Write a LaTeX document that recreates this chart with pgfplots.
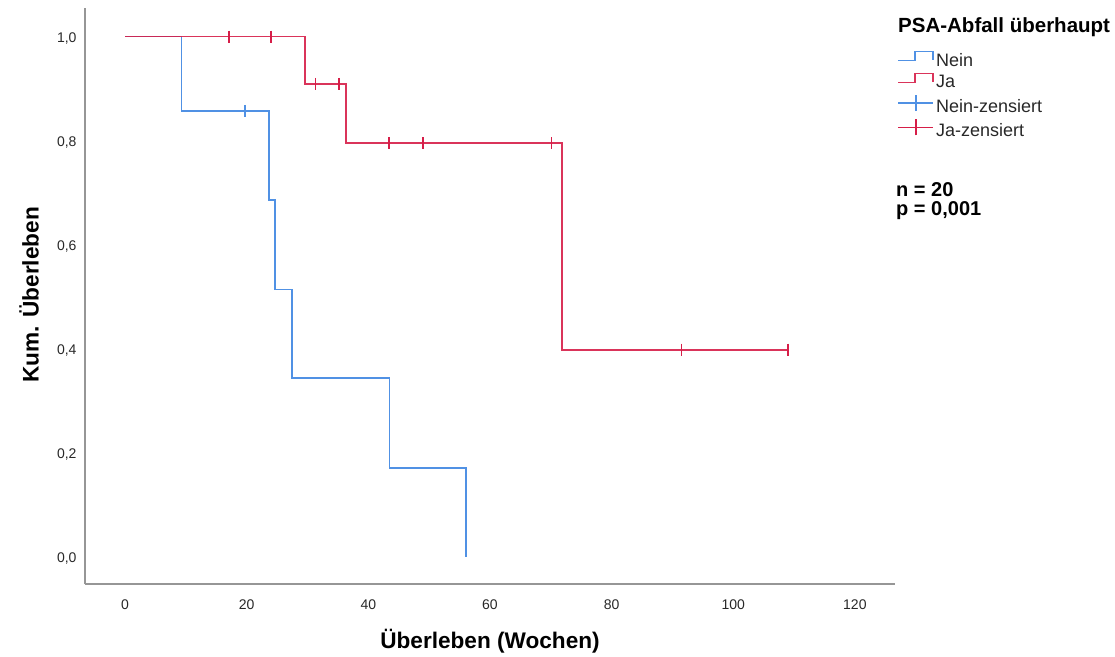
\documentclass[border=0pt]{standalone}
\usepackage{pgfplots}
\pgfplotsset{compat=1.18}
\usepackage{fontspec}
\setmainfont{Liberation Sans}
\definecolor{kmblue}{RGB}{80,145,228}
\definecolor{kmred}{RGB}{214,30,72}
\definecolor{axgray}{RGB}{150,150,150}
\definecolor{txt}{RGB}{40,40,40}
\pgfplotsset{
  steplegend/.style={legend image code/.code={\draw[##1] (0pt,0pt) -- (17pt,0pt) -- (17pt,9pt) -- (35pt,9pt) -- (35pt,0pt);}},
  censlegend/.style={legend image code/.code={\draw[#1, line width=1.6pt] (0pt,3pt) -- (35pt,3pt); \draw[#1, line width=1.6pt] (17.5pt,-5pt) -- (17.5pt,11pt);}},
}
\begin{document}
\begin{tikzpicture}[x=1pt,y=1pt]
\useasboundingbox (0,0) rectangle (1115,656);
\begin{axis}[
  at={(85pt,72pt)}, anchor=south west,
  scale only axis, width=810pt, height=576pt,
  xmin=-6.58, xmax=126.6, ymin=-0.0525, ymax=1.055,
  axis lines*=left,
  axis line style={axgray, line width=1.6pt, -},
  xtick={0,20,40,60,80,100,120},
  ytick={0,0.2,0.4,0.6,0.8,1.0},
  major tick length=0pt,
  tick label style={font=\fontsize{14}{16}\selectfont, text=txt},
  /pgf/number format/assume math mode=true,
  yticklabel style={/pgf/number format/fixed, /pgf/number format/fixed zerofill, /pgf/number format/precision=1, /pgf/number format/use comma, xshift=-5pt, yshift=-2pt},
  xticklabel style={yshift=-12pt},
  xlabel={Überleben (Wochen)},
  ylabel={Kum. Überleben},
  label style={font=\bfseries\fontsize{22.6}{26}\selectfont, text=black},
  xlabel style={at={(axis description cs:0.5,-0.099)}, anchor=center},
  ylabel style={at={(axis description cs:-0.069,0.502)}, anchor=center},
  legend style={at={(axis description cs:0.999,0.93)}, anchor=north west, draw=none, fill=none,
    font=\fontsize{18}{21}\selectfont, text=txt, row sep=3pt},
  legend cell align=left,
  clip=false,
]
% Nein (blue) step curve
\addplot[kmblue, line width=1.7pt, const plot, mark=none, steplegend]
  coordinates {(0,1) (9.3,0.857) (23.7,0.686) (24.7,0.514) (27.5,0.343) (43.5,0.171) (56.1,0)};
\addlegendentry{Nein}
% Ja (red) step curve
\addplot[kmred, line width=1.7pt, const plot, mark=none, opacity=0.9, steplegend]
  coordinates {(0,1) (29.6,0.909) (36.3,0.795) (71.9,0.398) (109.0,0.398)};
\addlegendentry{Ja}
% Nein censored
\addplot[kmblue, only marks, mark=|, mark size=6pt, mark options={line width=1.6pt}, censlegend=kmblue]
  coordinates {(19.7,0.857)};
\addlegendentry{Nein-zensiert}
% Ja censored
\addplot[kmred, only marks, mark=|, mark size=6pt, mark options={line width=1.6pt}, censlegend=kmred]
  coordinates {(17.1,1) (24.0,1) (31.3,0.909) (35.2,0.909) (43.4,0.795) (49.0,0.795) (70.1,0.795) (91.5,0.398) (109.0,0.398)};
\addlegendentry{Ja-zensiert}
\end{axis}
\node[anchor=west, inner sep=0pt, font=\bfseries\fontsize{20.5}{24}\selectfont] at (898,629) {PSA-Abfall überhaupt};
\node[anchor=west, inner sep=0pt, font=\bfseries\fontsize{20}{24}\selectfont] at (896,466) {n = 20};
\node[anchor=west, inner sep=0pt, font=\bfseries\fontsize{20}{24}\selectfont] at (896,445) {p = 0,001};
\end{tikzpicture}
\end{document}
